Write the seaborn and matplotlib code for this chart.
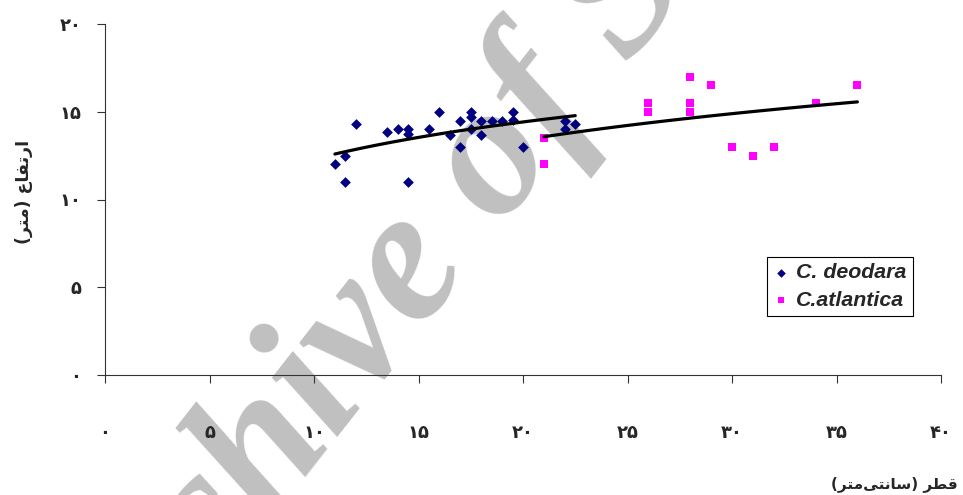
import numpy as np
import pandas as pd
import matplotlib
matplotlib.use("Agg")
import matplotlib.pyplot as plt
import seaborn as sns

# Diameter (cm) and height (m) of sampled trees
deodara_diameter = [11, 11.5, 11.5, 12, 13.5, 14, 14.5, 14.5, 14.5, 15.5, 16, 16.5, 17, 17,
                    17.5, 17.5, 17.5, 18, 18, 18.5, 19, 19.5, 19.5, 20, 22, 22, 22.5]
deodara_height = [12, 12.5, 11, 14.3, 13.85, 14, 14, 13.75, 11, 14, 15, 13.65, 14.5, 13,
                  15, 14.7, 14, 14.5, 13.65, 14.5, 14.5, 15, 14.55, 13, 14.5, 14, 14.3]

atlantica_diameter = [21, 21, 26, 26, 28, 28, 28, 29, 30, 31, 32, 34, 36]
atlantica_height = [13.5, 12, 15.5, 15, 17, 15.5, 15, 16.5, 13, 12.5, 13, 15.5, 16.5]

species_names = ["C. deodara", "C.atlantica"]

x_tick_values = [0, 5, 10, 15, 20, 25, 30, 35, 40]
x_tick_labels = ["۰", "۵", "۱۰", "۱۵", "۲۰", "۲۵", "۳۰", "۳۵", "۴۰"]
y_tick_values = [0, 5, 10, 15, 20]
y_tick_labels = ["۰", "۵", "۱۰", "۱۵", "۲۰"]

# Persian labels written in display order with joined letter forms
y_label = "(\uFEAE\uFE98\uFEE3) \uFEC9\uFE8E\uFED4\uFE97\uFEAD\uFE8D"
x_label = "(\uFEAE\uFE98\uFEE3\uFEF0\uFE98\uFEE7\uFE8E\uFEB3) \uFEAE\uFEC4\uFED7"

sns.set_style("ticks")
plt.rcParams["font.family"] = ["DejaVu Sans"]

df = pd.DataFrame({
    "diameter": deodara_diameter + atlantica_diameter,
    "height": deodara_height + atlantica_height,
    "species": [species_names[0]] * len(deodara_diameter) + [species_names[1]] * len(atlantica_diameter),
})

colors = {species_names[0]: "#000080", species_names[1]: "#FF00FF"}
markers = {species_names[0]: "D", species_names[1]: "s"}
sizes = {species_names[0]: 30, species_names[1]: 34}

fig = plt.figure(figsize=(9.63, 4.95), dpi=100)
ax = fig.add_axes([105 / 963, 1 - 375 / 495, 836 / 963, 351 / 495])

# Watermark behind the data
ax.text(99 / 963, 1 - 756 / 495, "Archive of SID", transform=fig.transFigure,
        rotation=52, rotation_mode="anchor", ha="left", va="baseline",
        fontsize=137, family="Liberation Serif", weight="bold", style="italic",
        color="#c0c0c0", zorder=0.5, clip_on=False)

for name in species_names:
    sub = df[df["species"] == name]
    sns.scatterplot(data=sub, x="diameter", y="height", ax=ax, marker=markers[name],
                    color=colors[name], s=sizes[name], linewidth=0, label=name, zorder=3)

# Logarithmic trend lines
for name in species_names:
    sub = df[df["species"] == name]
    a, b = np.polyfit(np.log(sub["diameter"]), sub["height"], 1)
    xs = np.linspace(sub["diameter"].min(), sub["diameter"].max(), 60)
    sns.lineplot(x=xs, y=a * np.log(xs) + b, ax=ax, color="black", linewidth=2.3,
                 legend=False, zorder=4)

ax.set_xlim(0, 40)
ax.set_ylim(0, 20)
ax.set_xticks(x_tick_values)
ax.set_xticklabels(x_tick_labels, fontsize=13, fontweight="bold")
ax.set_yticks(y_tick_values)
ax.set_yticklabels(y_tick_labels, fontsize=13, fontweight="bold")
ax.tick_params(axis="x", direction="out", length=6, width=0.8, color="#333333", pad=29)
ax.tick_params(axis="y", direction="out", length=6, width=0.8, color="#333333", pad=11)
ax.set_xlabel("")
ax.set_ylabel("")
for side in ["top", "right"]:
    ax.spines[side].set_visible(False)
for side in ["left", "bottom"]:
    ax.spines[side].set_color("#333333")
    ax.spines[side].set_linewidth(0.8)
ax.grid(False)

fig.text(24 / 963, 1 - 192 / 495, y_label, rotation=90, ha="center", va="center",
         fontsize=12.5, fontweight="bold")
fig.text(958 / 963, 1 - 484 / 495, x_label, ha="right", va="center",
         fontsize=11, fontweight="bold")

leg = ax.legend(loc="upper left", bbox_to_anchor=(0.792, 0.336), borderaxespad=0,
                frameon=True, fancybox=False, framealpha=1, edgecolor="black",
                borderpad=0.3, handletextpad=0.35, handlelength=0.7, labelspacing=0.4,
                markerscale=0.8,
                prop=dict(family="Liberation Sans", weight="bold", style="italic", size=15.4))
leg.get_frame().set_linewidth(0.8)

fig.savefig("out.png", dpi=100)
